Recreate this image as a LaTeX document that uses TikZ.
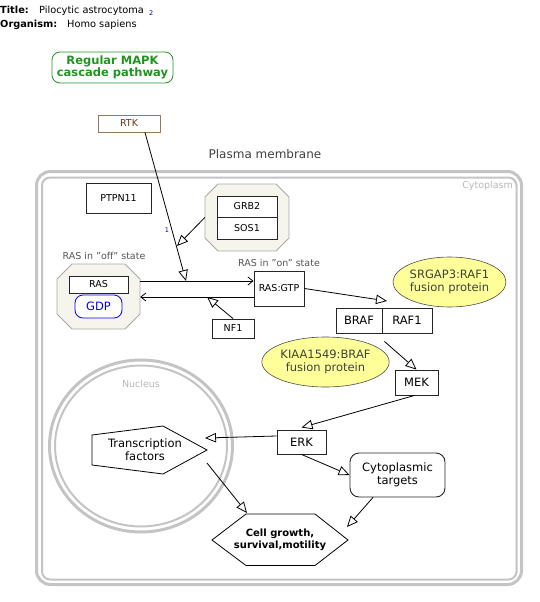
\documentclass[tikz,border=0pt]{standalone}
\usepackage{fontspec}
\setmainfont{DejaVu Sans}
\usetikzlibrary{arrows.meta,shapes.geometric}
\definecolor{pathgreen}{RGB}{30,150,30}
\definecolor{rtkbrown}{RGB}{150,120,90}
\definecolor{rtktext}{RGB}{100,60,20}
\definecolor{cplxfill}{RGB}{245,245,238}
\definecolor{cplxline}{RGB}{170,170,165}
\definecolor{fusionfill}{RGB}{255,255,153}
\definecolor{membgray}{RGB}{196,196,196}
\definecolor{labgray}{RGB}{85,85,85}

\begin{document}
\begin{tikzpicture}[
    x=1pt,y=-1pt,
    gene/.style={rectangle,draw=black!85,fill=white,line width=0.9pt,inner sep=0pt,
      font=\fontsize{9.5}{11}\selectfont},
    biggene/.style={gene,font=\fontsize{11.5}{13}\selectfont},
    cplx/.style={draw=cplxline,fill=cplxfill,line width=0.9pt},
    cplxnode/.style={rectangle,inner sep=0pt},
    fusion/.style={ellipse,draw=black!70,fill=fusionfill,line width=0.6pt,inner sep=0pt,
      align=center,text=black!75,font=\fontsize{11.5}{12.5}\selectfont},
    note/.style={text=labgray,inner sep=0pt,font=\fontsize{9.5}{11}\selectfont},
    comp/.style={text=black!28,inner sep=0pt,font=\fontsize{9.5}{11}\selectfont},
    memb/.style={draw=membgray,line width=3pt},
    stim/.style={-{Triangle[open,length=11pt,width=9.5pt]},line width=0.8pt},
    conv/.style={-{Straight Barb[length=5pt,width=8pt]},line width=0.8pt}
  ]
  \useasboundingbox (0,0) rectangle (539,602);

  \node[anchor=base west,inner sep=0pt,font=\bfseries\fontsize{9.8}{11}\selectfont] (ttl) at (0,14) {Title:};
  \node[anchor=base west,inner sep=0pt,font=\fontsize{9.8}{11}\selectfont] (ttltext) at (39,14) {Pilocytic astrocytoma};
  \node[anchor=base west,inner sep=0pt,text=blue!70!black,font=\fontsize{6.5}{7}\selectfont] (ref) at (149,16) {2};
  \node[anchor=base west,inner sep=0pt,font=\bfseries\fontsize{9.8}{11}\selectfont] (org) at (0,28) {Organism:};
  \node[anchor=base west,inner sep=0pt,font=\fontsize{9.8}{11}\selectfont] (orgtext) at (67,28) {Homo sapiens};

  \node[rectangle,rounded corners=8pt,draw=pathgreen,line width=0.8pt,text=pathgreen,align=center,
    minimum width=121pt,minimum height=31pt,inner sep=0pt,
    font=\bfseries\fontsize{11.5}{12.5}\selectfont] (mapk) at (112.5,67.5) {Regular MAPK\\cascade pathway};

  \node[text=black!75,inner sep=0pt,font=\fontsize{12}{14}\selectfont] (pmlabel) at (265,154) {Plasma membrane};
  \draw[memb,rounded corners=14pt] (36.5,171.5) rectangle (521.5,584.5);
  \draw[memb,line width=2pt,rounded corners=8pt] (42,177.5) rectangle (516.5,579.5);
  \node[comp,anchor=east] (cytolabel) at (513,186) {Cytoplasm};

  \draw[memb] (141,446) ellipse [x radius=91.5,y radius=86];
  \draw[memb,line width=2pt] (141,446) ellipse [x radius=86,y radius=80.5];
  \node[comp] (nuclabel) at (141,384) {Nucleus};

  \node[gene,draw=rtkbrown,text=rtktext,minimum width=62pt,minimum height=17pt] (rtk) at (129,123.5) {RTK};
  \node[gene,minimum width=65pt,minimum height=30pt] (ptpn) at (118.5,198) {PTPN11};

  \draw[cplx] (218,184) -- (276,184) -- (289,197) -- (289,238) -- (276,251) -- (218,251) -- (205,238) -- (205,197) -- cycle;
  \node[cplxnode,minimum width=84pt,minimum height=67pt] (grbcx) at (247,217.5) {};
  \node[gene,minimum width=60pt,minimum height=21pt] (grb) at (247,206.5) {GRB2};
  \node[gene,minimum width=60pt,minimum height=22pt] (sos) at (247,228) {SOS1};

  \node[note] (offlabel) at (104,256) {RAS in \symbol{34}off\symbol{34} state};
  \draw[cplx] (72,264) -- (125,264) -- (140,279) -- (140,314) -- (125,329) -- (72,329) -- (57,314) -- (57,279) -- cycle;
  \node[cplxnode,minimum width=83pt,minimum height=65pt] (rasoff) at (98.5,296.5) {};
  \node[gene,minimum width=59pt,minimum height=17pt] (ras) at (98.5,284.5) {RAS};
  \node[rectangle,rounded corners=8pt,draw=blue,fill=white,line width=0.8pt,text=blue,inner sep=0pt,
    minimum width=47pt,minimum height=23pt,font=\fontsize{11.5}{13}\selectfont] (gdp) at (98.5,306.5) {GDP};

  \node[note] (onlabel) at (279,263) {RAS in \symbol{34}on\symbol{34} state};
  \node[gene,minimum width=50pt,minimum height=35pt] (rasgtp) at (279,288.5) {RAS:GTP};
  \node[gene,minimum width=42pt,minimum height=19pt] (nf) at (233,328.5) {NF1};

  \node[biggene,minimum width=46pt,minimum height=25pt] (braf) at (359,320.5) {BRAF};
  \node[biggene,minimum width=50pt,minimum height=25pt] (raf) at (407,320.5) {RAF1};
  \node[fusion,minimum width=113pt,minimum height=50pt] (srgap) at (449.5,282) {SRGAP3:RAF1\\fusion protein};
  \node[fusion,minimum width=113pt,minimum height=50pt] (kiaa) at (325.5,362) {KIAA1549:BRAF\\fusion protein};
  \node[biggene,minimum width=43pt,minimum height=25pt] (mek) at (416.5,382.5) {MEK};
  \node[biggene,minimum width=49pt,minimum height=24pt] (erk) at (301.5,442) {ERK};
  \node[biggene,rounded corners=9pt,minimum width=95pt,minimum height=44pt,align=center] (cyto) at (397.5,475) {Cytoplasmic\\targets};

  \draw[line width=0.8pt,fill=white] (92,435) -- (163,426) -- (207,450) -- (163,474) -- (92,465) -- cycle;
  \node[align=center,inner sep=0pt,font=\fontsize{11.5}{13}\selectfont] (tf) at (145,450) {Transcription\\factors};
  \coordinate (tfin) at (205,438);
  \coordinate (tfout) at (207,463);

  \draw[line width=0.8pt,fill=white] (212,540) -- (246,514) -- (315,514) -- (348,540) -- (315,565.5) -- (246,565.5) -- cycle;
  \node[align=center,inner sep=0pt,font=\bfseries\fontsize{10}{11.5}\selectfont] (growth) at (280,540) {Cell growth,\\survival,motility};
  \coordinate (growthnw) at (247,513);
  \coordinate (growthne) at (347,527);

  \coordinate (rasjoin) at (186,281);
  \coordinate (rtkjoin) at (177,246);
  \coordinate (nfjoin) at (207,297);
  \coordinate (brafin) at (387,301);

  \draw[conv] ([yshift=15.5pt]rasoff.east) -- ([yshift=7.5pt]rasgtp.west);
  \draw[conv] ([yshift=-8.5pt]rasgtp.west) -- ([yshift=-0.5pt]rasoff.east);
  \draw[stim] ([xshift=16pt]rtk.south) -- (rasjoin);
  \draw[stim] (grbcx.west) -- (rtkjoin);
  \node[text=blue!70!black,inner sep=0pt,font=\fontsize{6.5}{7}\selectfont] (one) at (167,230) {1};
  \draw[stim] (nf.north) -- (nfjoin);
  \draw[stim] (rasgtp.east) -- (brafin);
  \draw[stim] ([shift={(2pt,-8pt)}]braf.south east) -- (mek.north);
  \draw[stim] ([xshift=-2pt]mek.south) -- ([yshift=2pt]erk.north);
  \draw[stim] ([yshift=6pt]erk.west) -- (tfin);
  \draw[stim] (erk.south) -- (cyto.west);
  \draw[stim] ([xshift=-24.5pt]cyto.south) -- (growthne);
  \draw[stim] (tfout) -- (growthnw);
\end{tikzpicture}
\end{document}
